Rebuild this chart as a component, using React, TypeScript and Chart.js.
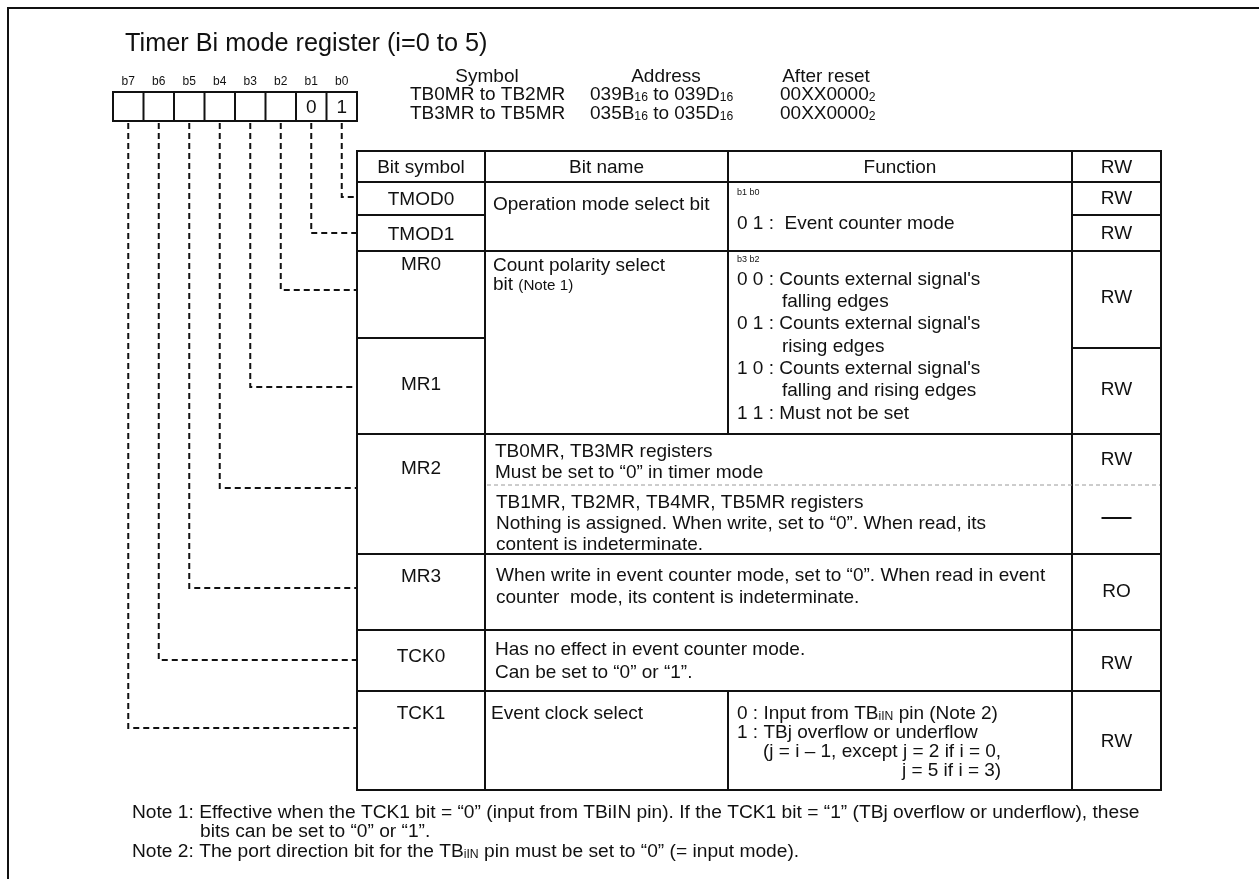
import React, { useEffect, useRef } from 'react';
import { Chart, registerables } from 'chart.js';

Chart.register(...registerables);

// ================= DATA =================
const titleText = 'Timer Bi mode register (i=0 to 5)';
const bitLabels = ['b7', 'b6', 'b5', 'b4', 'b3', 'b2', 'b1', 'b0'];
const bitValues = ['', '', '', '', '', '', '0', '1'];
const infoHeaders = ['Symbol', 'Address', 'After reset'];
const registerSymbols = ['TB0MR to TB2MR', 'TB3MR to TB5MR'];
const registerAddresses = ['039B_{16} to 039D_{16}', '035B_{16} to 035D_{16}'];
const registerResets = ['00XX0000_{2}', '00XX0000_{2}'];
const tableHeaders = ['Bit symbol', 'Bit name', 'Function', 'RW'];
const bitSymbols = ['TMOD0', 'TMOD1', 'MR0', 'MR1', 'MR2', 'MR3', 'TCK0', 'TCK1'];
const accessModes = ['RW', 'RW', 'RW', 'RW', 'RW', '—', 'RO', 'RW', 'RW'];
const modeName = ['Operation mode select bit'];
const modeKey = 'b1 b0';
const modeFunction = ['0 1 :  Event counter mode'];
const polarityName = ['Count polarity select', 'bit ~{(Note 1)}'];
const polarityKey = 'b3 b2';
const polarityFunction = [
  "0 0 : Counts external signal's",
  '\tfalling edges',
  "0 1 : Counts external signal's",
  '\trising edges',
  "1 0 : Counts external signal's",
  '\tfalling and rising edges',
  '1 1 : Must not be set',
];
const mr2Upper = ['TB0MR, TB3MR registers', 'Must be set to “0” in timer mode'];
const mr2Lower = [
  'TB1MR, TB2MR, TB4MR, TB5MR registers',
  'Nothing is assigned. When write, set to “0”. When read, its',
  'content is indeterminate.',
];
const mr3Text = [
  'When write in event counter mode, set to “0”. When read in event',
  'counter  mode, its content is indeterminate.',
];
const tck0Text = ['Has no effect in event counter mode.', 'Can be set to “0” or “1”.'];
const tck1Name = ['Event clock select'];
const tck1Function = [
  '0 : Input from TB_{iIN} pin (Note 2)',
  '1 : TBj overflow or underflow',
  '\t(j = i – 1, except j = 2 if i = 0,',
  '>j = 5 if i = 3)',
];
const notes = [
  'Note 1: Effective when the TCK1 bit = “0” (input from TBiIN pin). If the TCK1 bit = “1” (TBj overflow or underflow), these',
  '\tbits can be set to “0” or “1”.',
  'Note 2: The port direction bit for the TB_{iIN} pin must be set to “0” (= input mode).',
];

// ================= LAYOUT / STYLE =================
const W = 1259;
const H = 879;
const FONT = '"Liberation Sans", Arial, Helvetica, sans-serif';
const INK = '#111';
const FRAME = 8;
const TITLE = { x: 125, y: 42, size: 25.3 };
const BODY = 19;
const NOTE_SIZE = 19.2;
const BOX = { left: 113, top: 92, cell: 30.5, height: 29, labelY: 81, labelSize: 12 };
const INFO = { headerY: 75, rowY: [93, 112], colX: [410, 590, 780], headerCX: [487, 666, 826] };
const COLS = [357, 485, 728, 1072, 1161];
const R = {
  top: 151, head: 182, tmod: 215, mr: 251, mr0Sym: 338, mr0Rw: 348,
  mr2: 434, mr2Split: 485, mr3: 554, tck0: 630, tck1: 691, bottom: 790,
};
const HEADER_Y = 166;
const SYMBOL_Y = [198, 233, 263, 383, 467, 575, 655, 712];
const ACCESS_Y = [197, 232, 296, 388, 458, 518, 590, 662, 740];
const LEADER_Y = [728, 660, 588, 488, 387, 290, 233, 197]; // b7..b0
const TEXT_X = { name: 493, func: 737, merged: 496, indent: 45, tck1Indent: 26 };
const LINE_H = 22.3;
const NOTES = { x: 132, y: [811, 830, 850], indent: 68 };

type Seg = { t: string; k: string };
function parse(s: string): Seg[] {
  const out: Seg[] = [];
  const re = /([_~])\{([^}]*)\}/g;
  let last = 0;
  let m: RegExpExecArray | null;
  while ((m = re.exec(s))) {
    if (m.index > last) out.push({ t: s.slice(last, m.index), k: '' });
    out.push({ t: m[2], k: m[1] });
    last = re.lastIndex;
  }
  if (last < s.length) out.push({ t: s.slice(last), k: '' });
  return out;
}
const segSize = (k: string, size: number) => (k === '_' ? size * 0.64 : k === '~' ? size * 0.8 : size);

function measureRich(ctx: CanvasRenderingContext2D, s: string, size: number) {
  let w = 0;
  for (const sg of parse(s)) {
    ctx.font = `${segSize(sg.k, size)}px ${FONT}`;
    w += ctx.measureText(sg.t).width;
  }
  return w;
}

function drawRich(
  ctx: CanvasRenderingContext2D, s: string, x: number, y: number, size: number,
  align: 'left' | 'center' | 'right' = 'left',
) {
  const w = measureRich(ctx, s, size);
  let cx = align === 'left' ? x : align === 'center' ? x - w / 2 : x - w;
  const base = y + size * 0.36;
  ctx.textAlign = 'left';
  ctx.textBaseline = 'alphabetic';
  ctx.fillStyle = INK;
  for (const sg of parse(s)) {
    ctx.font = `${segSize(sg.k, size)}px ${FONT}`;
    ctx.fillText(sg.t, cx, sg.k === '_' ? base + 1 : base);
    cx += ctx.measureText(sg.t).width;
  }
  return w;
}

function drawLines(
  ctx: CanvasRenderingContext2D, lines: string[], x: number, y0: number, lh: number,
  X: (v: number) => number, Y: (v: number) => number, indent: number, size = BODY,
) {
  let prevEnd = 0;
  lines.forEach((ln, i) => {
    const y = Y(y0 + i * lh);
    if (ln.startsWith('>')) {
      drawRich(ctx, ln.slice(1), prevEnd, y, size, 'right');
      return;
    }
    let lx = X(x);
    let text = ln;
    if (ln.startsWith('\t')) {
      lx = X(x + indent);
      text = ln.slice(1);
    }
    const w = drawRich(ctx, text, lx, y, size, 'left');
    prevEnd = lx + w;
  });
}

const diagramPlugin = {
  id: 'registerDiagram',
  beforeDraw(chart: any) {
    const ctx = chart.ctx as CanvasRenderingContext2D;
    ctx.save();
    ctx.fillStyle = '#fff';
    ctx.fillRect(0, 0, chart.width, chart.height);
    ctx.restore();
  },
  afterDraw(chart: any) {
    const ctx = chart.ctx as CanvasRenderingContext2D;
    const X = (v: number) => chart.scales.x.getPixelForValue(v);
    const Y = (v: number) => chart.scales.y.getPixelForValue(v);
    ctx.save();
    ctx.strokeStyle = INK;
    ctx.lineWidth = 2;
    ctx.lineCap = 'butt';
    const line = (x1: number, y1: number, x2: number, y2: number) => {
      ctx.beginPath();
      ctx.moveTo(X(x1), Y(y1));
      ctx.lineTo(X(x2), Y(y2));
      ctx.stroke();
    };

    // outer frame
    line(FRAME, FRAME - 1, FRAME, H);
    line(FRAME - 1, FRAME, W, FRAME);

    // title
    drawRich(ctx, titleText, X(TITLE.x), Y(TITLE.y), TITLE.size);

    // bit box
    const boxRight = BOX.left + BOX.cell * bitLabels.length;
    ctx.strokeRect(X(BOX.left), Y(BOX.top), X(boxRight) - X(BOX.left), Y(BOX.top + BOX.height) - Y(BOX.top));
    bitLabels.forEach((lb, i) => {
      const cx = BOX.left + BOX.cell * (i + 0.5);
      if (i > 0) line(BOX.left + BOX.cell * i, BOX.top, BOX.left + BOX.cell * i, BOX.top + BOX.height);
      drawRich(ctx, lb, X(cx), Y(BOX.labelY), BOX.labelSize, 'center');
      if (bitValues[i]) drawRich(ctx, bitValues[i], X(cx), Y(BOX.top + BOX.height / 2), BODY, 'center');
    });

    // register info
    infoHeaders.forEach((h, i) => drawRich(ctx, h, X(INFO.headerCX[i]), Y(INFO.headerY), BODY, 'center'));
    registerSymbols.forEach((s, r) => {
      drawRich(ctx, s, X(INFO.colX[0]), Y(INFO.rowY[r]), BODY);
      drawRich(ctx, registerAddresses[r], X(INFO.colX[1]), Y(INFO.rowY[r]), BODY);
      drawRich(ctx, registerResets[r], X(INFO.colX[2]), Y(INFO.rowY[r]), BODY);
    });

    // table grid
    const [c0, c1, c2, c3, c4] = COLS;
    ctx.strokeRect(X(c0), Y(R.top), X(c4) - X(c0), Y(R.bottom) - Y(R.top));
    line(c0, R.head, c4, R.head);
    line(c0, R.tmod, c1, R.tmod);
    line(c3, R.tmod, c4, R.tmod);
    line(c0, R.mr, c4, R.mr);
    line(c0, R.mr0Sym, c1, R.mr0Sym);
    line(c3, R.mr0Rw, c4, R.mr0Rw);
    line(c0, R.mr2, c4, R.mr2);
    line(c0, R.mr3, c4, R.mr3);
    line(c0, R.tck0, c4, R.tck0);
    line(c0, R.tck1, c4, R.tck1);
    line(c1, R.top, c1, R.bottom);
    line(c2, R.top, c2, R.mr2);
    line(c2, R.tck1, c2, R.bottom);
    line(c3, R.top, c3, R.bottom);
    // grey dashed split in MR2
    ctx.save();
    ctx.strokeStyle = '#9a9a9a';
    ctx.lineWidth = 1;
    ctx.setLineDash([4, 3]);
    line(c1 + 2, R.mr2Split, c4 - 1, R.mr2Split);
    ctx.restore();

    // headers
    const centers = [(c0 + c1) / 2, (c1 + c2) / 2, (c2 + c3) / 2, (c3 + c4) / 2];
    tableHeaders.forEach((h, i) => drawRich(ctx, h, X(centers[i]), Y(HEADER_Y), BODY, 'center'));

    // bit symbols
    bitSymbols.forEach((s, i) => drawRich(ctx, s, X(centers[0]), Y(SYMBOL_Y[i]), BODY, 'center'));

    // access
    accessModes.forEach((a, i) => {
      if (a === '—') {
        line(centers[3] - 15, ACCESS_Y[i], centers[3] + 15, ACCESS_Y[i]);
      } else {
        drawRich(ctx, a, X(centers[3]), Y(ACCESS_Y[i]), BODY, 'center');
      }
    });

    // bit names
    drawLines(ctx, modeName, TEXT_X.name, 203, LINE_H, X, Y, 0);
    drawLines(ctx, polarityName, TEXT_X.name, 264, 19, X, Y, 0);
    drawLines(ctx, tck1Name, TEXT_X.name - 2, 712, LINE_H, X, Y, 0);

    // functions
    drawRich(ctx, modeKey, X(TEXT_X.func), Y(192), 9);
    drawLines(ctx, modeFunction, TEXT_X.func, 222, LINE_H, X, Y, 0);
    drawRich(ctx, polarityKey, X(TEXT_X.func), Y(259), 9);
    drawLines(ctx, polarityFunction, TEXT_X.func, 278, LINE_H, X, Y, TEXT_X.indent);
    drawLines(ctx, mr2Upper, TEXT_X.merged - 1, 450, 21.5, X, Y, 0);
    drawLines(ctx, mr2Lower, TEXT_X.merged, 501, 21, X, Y, 0);
    drawLines(ctx, mr3Text, TEXT_X.merged, 574, 22, X, Y, 0);
    drawLines(ctx, tck0Text, TEXT_X.merged - 1, 648, 23, X, Y, 0);
    drawLines(ctx, tck1Function, TEXT_X.func, 712, 19, X, Y, TEXT_X.tck1Indent);

    // notes
    drawLines(ctx, notes.slice(0, 2), NOTES.x, NOTES.y[0], NOTES.y[1] - NOTES.y[0], X, Y, NOTES.indent, NOTE_SIZE);
    drawLines(ctx, notes.slice(2), NOTES.x, NOTES.y[2], LINE_H, X, Y, 0, NOTE_SIZE);

    ctx.restore();
  },
};

export default function App() {
  const ref = useRef<HTMLCanvasElement | null>(null);
  useEffect(() => {
    if (!ref.current) return;
    const leaderSets = bitLabels.map((lb, i) => {
      const cx = BOX.left + BOX.cell * (i + 0.5);
      return {
        label: `${lb} → ${bitSymbols[bitSymbols.length - 1 - i]}`,
        data: [
          { x: cx, y: BOX.top + BOX.height + 2 },
          { x: cx, y: LEADER_Y[i] },
          { x: COLS[0], y: LEADER_Y[i] },
        ],
        showLine: true,
        borderColor: INK,
        borderWidth: 2,
        borderDash: [6, 4],
        pointRadius: 0,
        tension: 0,
        fill: false,
      };
    });
    const chart = new Chart(ref.current, {
      type: 'scatter',
      data: { datasets: leaderSets as any },
      options: {
        responsive: false,
        animation: false,
        devicePixelRatio: 1,
        layout: { padding: 0 },
        plugins: { legend: { display: false }, tooltip: { enabled: false } },
        scales: {
          x: { type: 'linear', min: 0, max: W, display: false },
          y: { type: 'linear', min: 0, max: H, reverse: true, display: false },
        },
      },
      plugins: [diagramPlugin],
    });
    return () => chart.destroy();
  }, []);
  return (
    <div style={{ position: 'absolute', left: 0, top: 0, width: W, height: H, background: '#fff' }}>
      <canvas ref={ref} width={W} height={H} style={{ display: 'block', width: W, height: H }} />
    </div>
  );
}
